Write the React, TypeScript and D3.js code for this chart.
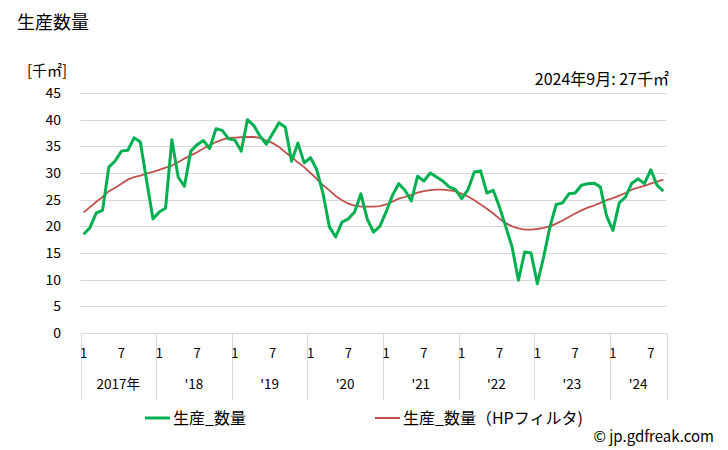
import { useEffect, useRef } from "react";
import * as d3 from "d3";

// monthly, Jan 2017 .. Sep 2024
const production = [
  18.5, 19.75, 22.5, 23, 31.1, 32.25, 34.1, 34.25, 36.6, 35.8, 28.5, 21.4,
  22.7, 23.4, 36.25, 29.25, 27.5, 34.1, 35.3, 36.1, 34.6, 38.3, 38, 36.4,
  36.2, 34.1, 40, 38.9, 36.9, 35.4, 37.4, 39.4, 38.6, 32.2, 35.6, 31.9,
  32.9, 30.6, 26.1, 19.9, 18, 20.8, 21.4, 22.7, 26.1, 21.4, 18.9, 20,
  22.7, 25.8, 28, 26.75, 24.75, 29.4, 28.5, 30, 29.25, 28.5, 27.4, 26.9,
  25.2, 26.9, 30.2, 30.4, 26.25, 26.75, 23.6, 19.9, 16.1, 9.9, 15.2, 15,
  9.25, 14.25, 19.9, 24.1, 24.4, 26.1, 26.25, 27.7, 28, 28.1, 27.4, 21.9,
  19.25, 24.4, 25.5, 28.1, 28.9, 28, 30.6, 27.7, 26.6,
];

const hpFilter = [
  22.6, 23.6, 24.6, 25.5, 26.6, 27.25, 28, 28.75, 29.25, 29.5, 29.9, 30.2,
  30.6, 31, 31.4, 32, 32.7, 33.3, 33.9, 34.6, 35.2, 35.8, 36.25, 36.6,
  36.65, 36.7, 36.75, 36.75, 36.6, 36.1, 35.6, 34.9, 33.9, 33, 32, 31.1,
  30, 28.9, 27.7, 26.75, 25.7, 24.9, 24.25, 23.9, 23.7, 23.7, 23.7, 23.8,
  24.1, 24.6, 25.2, 25.5, 25.9, 26.3, 26.6, 26.8, 26.9, 26.9, 26.75, 26.6,
  26.1, 25.6, 24.9, 24.1, 23.3, 22.4, 21.4, 20.6, 20, 19.6, 19.4, 19.4,
  19.5, 19.7, 20, 20.5, 21.1, 21.75, 22.4, 23, 23.5, 23.9, 24.4, 24.9,
  25.3, 25.75, 26.25, 26.9, 27.25, 27.6, 28, 28.4, 28.75,
];

const years = [2017, 2018, 2019, 2020, 2021, 2022, 2023, 2024];
const yearLabels = ["2017年", "'18", "'19", "'20", "'21", "'22", "'23", "'24"];
const monthTicks = [1, 7];
const yTicks = [0, 5, 10, 15, 20, 25, 30, 35, 40, 45];

const FONT = "'Noto Sans CJK JP', 'Noto Sans', sans-serif";

export default function App() {
  const svgRef = useRef<SVGSVGElement>(null);

  useEffect(() => {
    const svg = d3.select(svgRef.current);
    svg.selectAll("*").remove();

    const months = production.map((_, i) => i);
    const x = d3.scalePoint<number>().domain(months).range([80.5, 666.5]).padding(0.5);
    const step = x.step();
    const y = d3.scaleLinear().domain([0, 45]).range([333, 93]);
    const left = 80.5;
    const right = 666.5;

    // titles
    svg.append("text").attr("x", 17).attr("y", 29).attr("font-size", 18).text("生産数量");
    svg.append("text").attr("x", 27).attr("y", 76).attr("font-size", 15).text("[千㎡]");
    svg.append("text").attr("x", 669).attr("y", 85).attr("font-size", 16)
      .attr("text-anchor", "end").text("2024年9月: 27千㎡");

    // grid
    const grid = svg.append("g");
    grid.selectAll("line").data(yTicks).join("line")
      .attr("x1", left).attr("x2", right)
      .attr("y1", (d) => Math.round(y(d)) + 0.5).attr("y2", (d) => Math.round(y(d)) + 0.5)
      .attr("stroke", "#d9d9d9").attr("stroke-width", 1);
    svg.append("g").selectAll("text").data(yTicks).join("text")
      .attr("x", 61).attr("y", (d) => y(d) + 5)
      .attr("text-anchor", "end").attr("font-size", 14).text((d) => d);

    // x axis: year separators
    const yearStart = (yr: number) => x((yr - years[0]) * 12)! - step / 2;
    const seps = years.map(yearStart).concat([right]);
    svg.append("g").selectAll("line").data(seps).join("line")
      .attr("x1", (d) => Math.round(d) + 0.5).attr("x2", (d) => Math.round(d) + 0.5)
      .attr("y1", 333).attr("y2", 400)
      .attr("stroke", "#d9d9d9");

    const monthLabels: { i: number; m: number }[] = [];
    months.forEach((i) => {
      const m = (i % 12) + 1;
      if (monthTicks.includes(m)) monthLabels.push({ i, m });
    });
    svg.append("g").selectAll("text").data(monthLabels).join("text")
      .attr("x", (d) => x(d.i)!).attr("y", 358).attr("text-anchor", "middle")
      .attr("font-size", 13).text((d) => d.m);

    svg.append("g").selectAll("text").data(years).join("text")
      .attr("x", (d, i) => (seps[i] + seps[i + 1]) / 2).attr("y", 389)
      .attr("text-anchor", "middle").attr("font-size", 13.5)
      .text((_, i) => yearLabels[i]);

    // lines
    const ln = d3.line<number>().x((_, i) => x(i)!).y((d) => y(d));
    svg.append("path").datum(hpFilter).attr("d", ln).attr("fill", "none")
      .attr("stroke", "#c0504d").attr("stroke-width", 1.8);
    svg.append("path").datum(production).attr("d", ln).attr("fill", "none")
      .attr("stroke", "#00b050").attr("stroke-width", 3).attr("stroke-linejoin", "round");

    // legend
    const lg = svg.append("g").attr("font-size", 16);
    lg.append("line").attr("x1", 145).attr("x2", 170).attr("y1", 418).attr("y2", 418)
      .attr("stroke", "#00b050").attr("stroke-width", 3);
    lg.append("text").attr("x", 173).attr("y", 424).text("生産_数量");
    lg.append("line").attr("x1", 375).attr("x2", 400).attr("y1", 418).attr("y2", 418)
      .attr("stroke", "#c0504d").attr("stroke-width", 2);
    lg.append("text").attr("x", 403).attr("y", 424).text("生産_数量（HPフィルタ)");

    svg.append("text").attr("x", 714).attr("y", 442).attr("text-anchor", "end")
      .attr("font-size", 15).text("© jp.gdfreak.com");
  }, []);

  return (
    <svg
      ref={svgRef}
      width={728}
      height={450}
      style={{ position: "absolute", left: 0, top: 0, fontFamily: FONT, background: "#fff" }}
    />
  );
}
